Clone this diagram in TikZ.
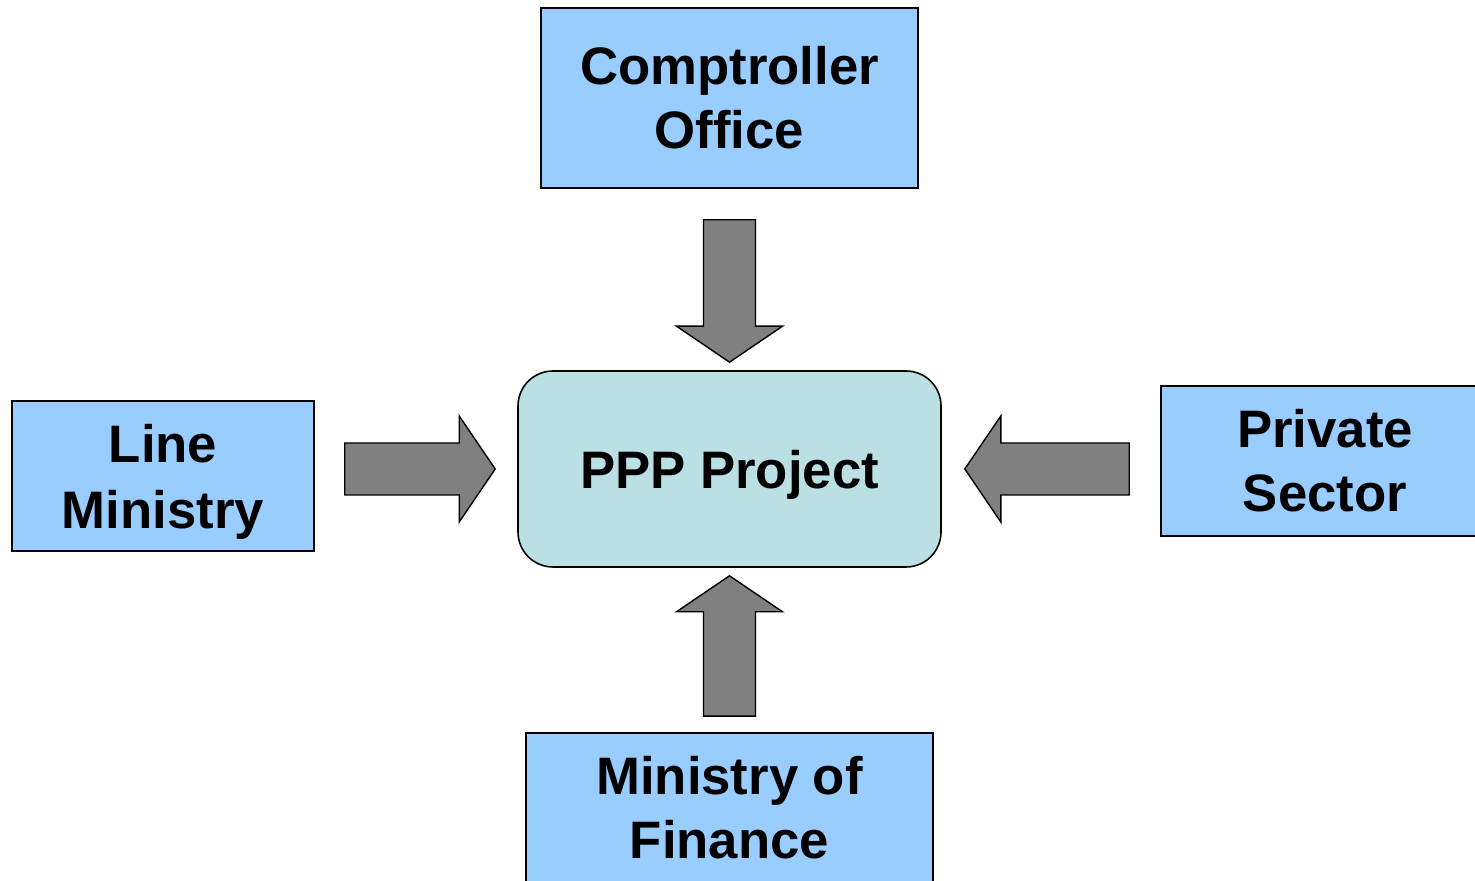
\documentclass[tikz,border=0pt]{standalone}
\usepackage{fontspec}
\setmainfont{Liberation Sans}
\usepackage{xcolor}
\usetikzlibrary{calc}
\definecolor{boxblue}{HTML}{99CCFF}
\definecolor{projteal}{HTML}{BBE0E3}
\definecolor{arrgray}{HTML}{808080}

% block arrow from tail #1 to tip #2
\newcommand{\blkarrow}[2]{%
  \path ($(#2)!0.72cm!(#1)$) coordinate (bh)
        ($(#1)!0.52cm!90:(#2)$) coordinate (t1)
        ($(#1)!0.52cm!-90:(#2)$) coordinate (t2)
        ($(bh)!0.52cm!90:(#2)$) coordinate (s1)
        ($(bh)!0.52cm!-90:(#2)$) coordinate (s2)
        ($(bh)!1.06cm!90:(#2)$) coordinate (h1)
        ($(bh)!1.06cm!-90:(#2)$) coordinate (h2);
  \filldraw[blk] (t1) -- (s1) -- (h1) -- (#2) -- (h2) -- (s2) -- (t2) -- cycle;}

\begin{document}
\begin{tikzpicture}[
  party/.style={draw,line width=0.9pt,fill=boxblue,align=center,
                font=\fontsize{30}{36.5}\selectfont\bfseries,inner sep=0pt},
  proj/.style={draw,line width=0.9pt,fill=projteal,rounded corners=0.7cm,
               minimum width=8.46cm,minimum height=3.92cm,text depth=0pt,
               font=\fontsize{30}{36}\selectfont\bfseries},
  blk/.style={fill=arrgray,draw=black,line width=0.8pt,line join=miter}]
\useasboundingbox (0,0) rectangle (29.5,17.62);
\node[proj] (ppp) at (14.59,8.24) {PPP Project};
\node[party,minimum width=7.54cm,minimum height=3.6cm] (co) at (14.59,15.66) {Comptroller\\Office};
\node[party,minimum width=6.04cm,minimum height=3.0cm,text depth=0pt] (lm) at (3.26,8.10) {Line\\[1pt]Ministry};
\node[party,minimum width=6.56cm,minimum height=3.0cm] (ps) at (26.5,8.40) {Private\\Sector};
\node[party,minimum width=8.14cm,minimum height=3.0cm] (mf) at (14.59,1.46) {Ministry of\\Finance};
% arrow ends
\coordinate (coT) at ($(co.south)+(0,-0.62)$);
\coordinate (coH) at ($(ppp.north)+(0,0.16)$);
\coordinate (mfT) at ($(mf.north)+(0,0.32)$);
\coordinate (mfH) at ($(ppp.south)+(0,-0.16)$);
\coordinate (lmT) at ($(lm.east |- ppp.west)+(0.6,0)$);
\coordinate (lmH) at ($(ppp.west)+(-0.44,0)$);
\coordinate (psT) at ($(ps.west |- ppp.east)+(-0.62,0)$);
\coordinate (psH) at ($(ppp.east)+(0.46,0)$);
\blkarrow{coT}{coH}
\blkarrow{mfT}{mfH}
\blkarrow{lmT}{lmH}
\blkarrow{psT}{psH}
\end{tikzpicture}
\end{document}
